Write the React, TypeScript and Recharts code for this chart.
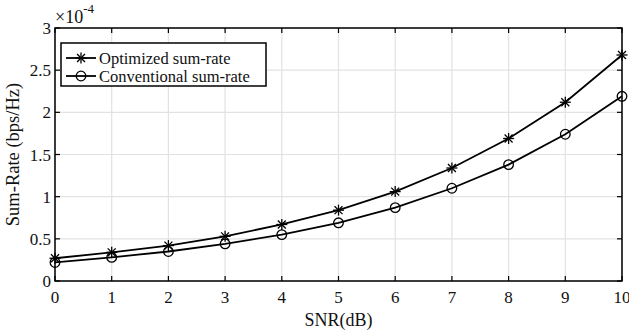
import { LineChart, Line, XAxis, YAxis, CartesianGrid, Legend, ReferenceArea } from 'recharts';

const snr = [0, 1, 2, 3, 4, 5, 6, 7, 8, 9, 10];
// values in units of 1e-4 bps/Hz
const optimized = [0.27, 0.34, 0.42, 0.53, 0.67, 0.84, 1.06, 1.34, 1.69, 2.12, 2.68];
const conventional = [0.22, 0.28, 0.35, 0.44, 0.55, 0.69, 0.87, 1.1, 1.38, 1.74, 2.19];
const xTicks = [0, 1, 2, 3, 4, 5, 6, 7, 8, 9, 10];
const yTicks = [0, 0.5, 1, 1.5, 2, 2.5, 3];
const yTickLabels = ['0', '0.5', '1', '1.5', '2', '2.5', '3'];

const data = snr.map((s, i) => ({ snr: s, optimized: optimized[i], conventional: conventional[i] }));

const FONT = '"Liberation Serif", "Times New Roman", serif';
const TOP = 28;
const RIGHT = 622;
const TICK = 5;

function Star({ cx, cy, r = 5.5 }: any) {
  const d = r * 0.72;
  return (
    <g stroke="#000" strokeWidth={1.3}>
      <line x1={cx - r} y1={cy} x2={cx + r} y2={cy} />
      <line x1={cx} y1={cy - r} x2={cx} y2={cy + r} />
      <line x1={cx - d} y1={cy - d} x2={cx + d} y2={cy + d} />
      <line x1={cx - d} y1={cy + d} x2={cx + d} y2={cy - d} />
    </g>
  );
}

function Ring({ cx, cy, r = 4.8 }: any) {
  return <circle cx={cx} cy={cy} r={r} fill="none" stroke="#000" strokeWidth={1.3} />;
}

const XTick = ({ x, y, payload }: any) => (
  <g>
    <line x1={x} y1={y} x2={x} y2={y - TICK} stroke="#000" strokeWidth={1.2} />
    <line x1={x} y1={TOP} x2={x} y2={TOP + TICK} stroke="#000" strokeWidth={1.2} />
    <text x={x} y={y + 22} textAnchor="middle" fontSize={17} fontFamily={FONT} fill="#111">
      {payload.value}
    </text>
  </g>
);

const YTick = ({ x, y, payload, index }: any) => (
  <g>
    <line x1={x} y1={y} x2={x + TICK} y2={y} stroke="#000" strokeWidth={1.2} />
    <line x1={RIGHT - TICK} y1={y} x2={RIGHT} y2={y} stroke="#000" strokeWidth={1.2} />
    <text x={x - 4} y={y + 6} textAnchor="end" fontSize={17} fontFamily={FONT} fill="#111">
      {yTickLabels[index] ?? payload.value}
    </text>
  </g>
);

const YLabel = ({ viewBox }: any) => {
  const cy = viewBox.y + viewBox.height / 2;
  return (
    <g fontFamily={FONT} fill="#111">
      <text x={19} y={cy} transform={`rotate(-90 19 ${cy})`} textAnchor="middle" fontSize={18.5}>
        Sum-Rate (bps/Hz)
      </text>
      <text x={55} y={23} fontSize={18}>
        ×10
        <tspan dy={-10} fontSize={13}>-4</tspan>
      </text>
    </g>
  );
};

const XLabel = ({ viewBox }: any) => (
  <text x={viewBox.x + viewBox.width / 2} y={viewBox.y + 45} textAnchor="middle" fontSize={18} fontFamily={FONT} fill="#111">
    SNR(dB)
  </text>
);

const LegendBox = () => (
  <svg width={208} height={46} style={{ display: 'block' }}>
    <rect x={1} y={1} width={205} height={43} fill="#fff" stroke="#000" strokeWidth={1.5} />
    <line x1={6} y1={16} x2={36} y2={16} stroke="#000" strokeWidth={1.8} />
    <Star cx={21} cy={16} />
    <text x={39} y={21.5} fontSize={16.5} fontFamily={FONT} fill="#111">Optimized sum-rate</text>
    <line x1={6} y1={34} x2={36} y2={34} stroke="#000" strokeWidth={1.8} />
    <Ring cx={21} cy={34} />
    <text x={39} y={39.5} fontSize={16.5} fontFamily={FONT} fill="#111">Conventional sum-rate</text>
  </svg>
);

export default function App() {
  return (
    <div style={{ position: 'absolute', left: 0, top: 0, width: 629, height: 333, background: '#fff' }}>
      <LineChart width={629} height={333} data={data} margin={{ top: TOP, right: 629 - RIGHT, left: 0, bottom: 0 }}>
        <CartesianGrid stroke="#e2e2e2" strokeWidth={1.2} />
        <XAxis
          dataKey="snr"
          type="number"
          domain={[0, 10]}
          ticks={xTicks}
          height={52}
          axisLine={false}
          tickLine={false}
          tickSize={0}
          tickMargin={0}
          tick={XTick}
          interval={0}
          label={XLabel}
        />
        <YAxis
          type="number"
          domain={[0, 3]}
          ticks={yTicks}
          width={55}
          axisLine={false}
          tickLine={false}
          tickSize={0}
          tickMargin={0}
          tick={YTick}
          interval={0}
          label={YLabel}
        />
        <ReferenceArea x1={0} x2={10} y1={0} y2={3} fill="none" fillOpacity={0} stroke="#000" strokeWidth={1.5} />
        <Line
          type="linear"
          dataKey="optimized"
          name="Optimized sum-rate"
          stroke="#000"
          strokeWidth={1.8}
          dot={(p: any) => <Star key={`s${p.index}`} cx={p.cx} cy={p.cy} />}
          isAnimationActive={false}
        />
        <Line
          type="linear"
          dataKey="conventional"
          name="Conventional sum-rate"
          stroke="#000"
          strokeWidth={1.8}
          dot={(p: any) => <Ring key={`c${p.index}`} cx={p.cx} cy={p.cy} />}
          isAnimationActive={false}
        />
        <Legend
          layout="horizontal"
          verticalAlign="middle"
          align="center"
          content={LegendBox}
          wrapperStyle={{ left: 60, top: 42, width: 208, height: 46 }}
        />
      </LineChart>
    </div>
  );
}
